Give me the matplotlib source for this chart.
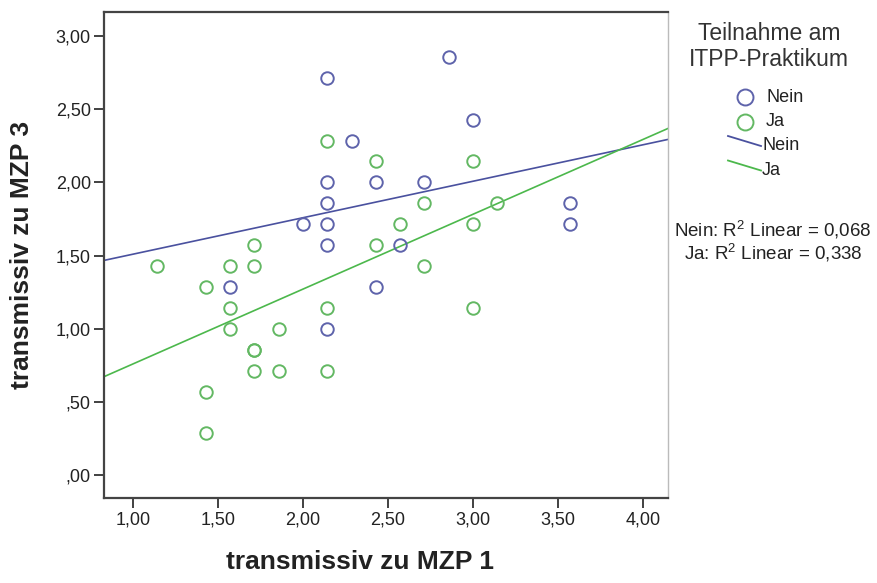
import numpy as np
import matplotlib
matplotlib.use("Agg")
import matplotlib.pyplot as plt
from matplotlib.lines import Line2D
from matplotlib.ticker import FuncFormatter

plt.rcParams["font.family"] = ["Liberation Sans", "DejaVu Sans"]
plt.rcParams["mathtext.fontset"] = "custom"
plt.rcParams["mathtext.rm"] = "Liberation Sans"
plt.rcParams["mathtext.it"] = "Liberation Sans"

# Group "Nein" (no participation)
nein_x = [2.143, 2.286, 2.143, 2.429, 2.143, 2.000, 2.143, 2.143, 2.857,
          3.000, 2.714, 3.571, 3.571, 2.571, 1.571, 2.429, 2.143]
nein_y = [2.714, 2.286, 2.000, 2.000, 1.857, 1.714, 1.714, 1.571, 2.857,
          2.429, 2.000, 1.857, 1.714, 1.571, 1.286, 1.286, 1.000]

# Group "Ja" (participation)
ja_x = [2.143, 2.429, 3.000, 2.714, 3.143, 2.571, 3.000, 1.714, 2.429,
        1.143, 1.571, 1.714, 2.714, 1.429, 1.571, 2.143, 3.000, 1.571,
        1.857, 1.714, 1.714, 1.714, 1.857, 2.143, 1.429, 1.429]
ja_y = [2.286, 2.143, 2.143, 1.857, 1.857, 1.714, 1.714, 1.571, 1.571,
        1.429, 1.429, 1.429, 1.429, 1.286, 1.143, 1.143, 1.143, 1.000,
        1.000, 0.857, 0.857, 0.714, 0.714, 0.714, 0.571, 0.286]

group_labels = ["Nein", "Ja"]
r2_values = ["0,068", "0,338"]
x_ticks = [1.0, 1.5, 2.0, 2.5, 3.0, 3.5, 4.0]
y_ticks = [0.0, 0.5, 1.0, 1.5, 2.0, 2.5, 3.0]

BLUE_MK = "#5e63ab"
GREEN_MK = "#63b863"
BLUE_LN = "#4a519f"
GREEN_LN = "#4cb84c"
TXT = "#222222"


def de_fmt(v, _pos=None):
    s = f"{v:.2f}".replace(".", ",")
    if s.startswith("0,"):
        s = s[1:]
    return s


fig = plt.figure(figsize=(8.77, 5.83), dpi=100)
ax = fig.add_axes([104 / 877, 1 - 498 / 583, 564 / 877, (498 - 12) / 583])

xlim = (0.829, 4.147)
ylim = (-0.156, 3.164)
ax.set_xlim(*xlim)
ax.set_ylim(*ylim)

# Fit lines across the full x range
xs = np.array(xlim)
for gx, gy, col in [(nein_x, nein_y, BLUE_LN), (ja_x, ja_y, GREEN_LN)]:
    b, a = np.polyfit(gx, gy, 1)
    ax.plot(xs, a + b * xs, color=col, lw=1.2, zorder=2)

ax.plot(nein_x, nein_y, "o", ms=9, mfc="none", mec=BLUE_MK, mew=1.4, zorder=3)
ax.plot(ja_x, ja_y, "o", ms=9, mfc="none", mec=GREEN_MK, mew=1.4, zorder=3)

ax.set_xticks(x_ticks)
ax.set_yticks(y_ticks)
ax.xaxis.set_major_formatter(FuncFormatter(de_fmt))
ax.yaxis.set_major_formatter(FuncFormatter(de_fmt))
ax.tick_params(direction="out", length=7.5, width=1.3, color="#333333",
               labelsize=13, labelcolor=TXT, pad=2)

for side in ["left", "bottom", "top"]:
    ax.spines[side].set_color("#444444")
    ax.spines[side].set_linewidth(1.6)
ax.spines["right"].set_color("#bbbbbb")
ax.spines["right"].set_linewidth(1.0)

fig.text(360 / 877, 1 - 562 / 583, "transmissiv zu MZP 1", ha="center",
         va="center", fontsize=19, fontweight="bold", color=TXT)
fig.text(22 / 877, 1 - 255 / 583, "transmissiv zu MZP 3", ha="center",
         va="center", rotation=90, fontsize=19, fontweight="bold", color=TXT)

# Legend drawn in figure pixel coordinates
def fx(px):
    return px / 877


def fy(py):
    return 1 - py / 583


fig.text(fx(769), fy(33), "Teilnahme am", ha="center", va="center",
         fontsize=16.5, color="#333333")
fig.text(fx(769), fy(60), "ITPP-Praktikum", ha="center", va="center",
         fontsize=16.5, color="#333333")

for i, (lab, col) in enumerate(zip(group_labels, [BLUE_MK, GREEN_MK])):
    yy = 97 + 24.5 * i
    fig.add_artist(Line2D([fx(745)], [fy(yy)], marker="o", ms=11.5,
                          mfc="none", mec=col, mew=1.4, ls="none"))
    fig.text(fx(766), fy(yy), lab, ha="left", va="center", fontsize=13,
             color=TXT)

for i, (lab, col) in enumerate(zip(group_labels, [BLUE_LN, GREEN_LN])):
    y0 = 136 + 24.5 * i
    fig.add_artist(Line2D([fx(728), fx(761)], [fy(y0), fy(y0 + 10)],
                          color=col, lw=1.3))
    fig.text(fx(762), fy(y0 + 10), lab, ha="left", va="center", fontsize=13,
             color=TXT)

for i, (lab, r2) in enumerate(zip(group_labels, r2_values)):
    fig.text(fx(773), fy(230 + 23 * i), f"{lab}: R$^2$ Linear = {r2}",
             ha="center", va="center", fontsize=13.5, color=TXT)

fig.savefig("out.png", dpi=100, facecolor="white")
